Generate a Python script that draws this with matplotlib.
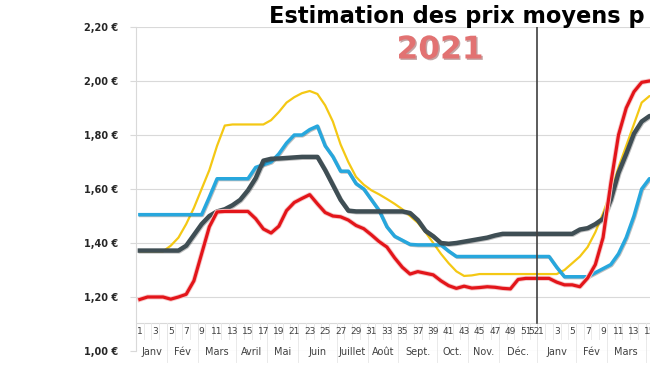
import matplotlib
matplotlib.use("Agg")
import matplotlib.pyplot as plt
import matplotlib.patheffects as pe
import numpy as np

# ---------------- data ----------------
week_labels = [str(w) for w in range(1, 53)] + [str(w) for w in range(1, 17)]
shown_weeks = set(list(range(1, 52, 2)) + [52] + list(range(53, 69, 2)))  # indices whose label is shown

months = ["Janv", "Fév", "Mars", "Avril", "Mai", "Juin", "Juillet", "Août",
          "Sept.", "Oct.", "Nov.", "Déc.", "Janv", "Fév", "Mars", "Avril"]
month_weeks = [4, 4, 5, 4, 4, 5, 4, 4, 5, 4, 4, 5, 5, 4, 5, 4]

y_ticks = [1.00, 1.20, 1.40, 1.60, 1.80, 2.00, 2.20]
y_tick_labels = ["1,00 €", "1,20 €", "1,40 €", "1,60 €", "1,80 €", "2,00 €", "2,20 €"]

serie_bleue = ([1.505] * 9 + [1.57] + [1.638] * 5 +
               [1.68, 1.69, 1.70, 1.73, 1.77, 1.80, 1.80, 1.82, 1.833, 1.76, 1.72,
                1.666, 1.666, 1.62, 1.60, 1.56, 1.52, 1.46, 1.425, 1.41, 1.395] +
               [1.393] * 4 + [1.37] + [1.35] * 13 + [1.31] + [1.275] * 4 +
               [1.29, 1.305, 1.32, 1.36, 1.42, 1.50, 1.60, 1.638, 1.638])

serie_jaune = ([1.369] * 4 +
               [1.39, 1.42, 1.47, 1.53, 1.60, 1.67, 1.76, 1.835] +
               [1.839] * 5 +
               [1.855, 1.885, 1.92, 1.94, 1.955, 1.963, 1.952, 1.91, 1.85, 1.765,
                1.70, 1.645, 1.616, 1.595, 1.58, 1.563, 1.545, 1.525, 1.50, 1.475,
                1.44, 1.40, 1.36, 1.325, 1.295, 1.278, 1.28] +
               [1.285] * 11 +
               [1.30, 1.325, 1.35, 1.385, 1.44, 1.51, 1.59, 1.68, 1.76, 1.84, 1.92,
                1.944, 1.944])

serie_grise = ([1.372] * 6 +
               [1.39, 1.43, 1.47, 1.50, 1.517, 1.525, 1.54, 1.56, 1.595, 1.64,
                1.705, 1.712, 1.713, 1.715, 1.717] +
               [1.719] * 3 + [1.67, 1.615, 1.56, 1.52] + [1.517] * 7 +
               [1.511, 1.485, 1.445, 1.425, 1.40, 1.397, 1.40, 1.405, 1.41, 1.415,
                1.42, 1.428] +
               [1.434] * 10 +
               [1.45, 1.455, 1.47, 1.49, 1.56, 1.66, 1.73, 1.805, 1.85, 1.87, 1.875])

serie_rouge = ([1.191, 1.20, 1.20, 1.20, 1.192, 1.20, 1.21, 1.26, 1.36, 1.46, 1.515] +
               [1.517] * 4 +
               [1.49, 1.452, 1.437, 1.462, 1.52, 1.55, 1.565, 1.579, 1.545, 1.513,
                1.50, 1.497, 1.485, 1.465, 1.453, 1.43, 1.405, 1.385, 1.345, 1.31,
                1.285, 1.294, 1.288, 1.282, 1.26, 1.242, 1.232, 1.24, 1.233, 1.235,
                1.238, 1.236, 1.232, 1.23, 1.265] +
               [1.269] * 4 +
               [1.255, 1.245, 1.245, 1.238, 1.27, 1.32, 1.42, 1.62, 1.80, 1.90, 1.96,
                1.995, 2.0, 2.0])

# ---------------- figure ----------------
W, H = 650, 366
fig = plt.figure(figsize=(W / 100, H / 100), dpi=100)
fig.patch.set_facecolor("white")

px_per_week = 7.72
ax_left_px, ax_top_px, ax_bot_px = 136, 27, 351
ax = fig.add_axes([ax_left_px / W, (H - ax_bot_px) / H,
                   (W - ax_left_px) / W, (ax_bot_px - ax_top_px) / H])
ax.set_xlim(0.5, 0.5 + (W - ax_left_px) / px_per_week)
ax.set_ylim(1.0, 2.2)

x = np.arange(1, len(week_labels) + 1)

ax.plot(x, serie_jaune, color="#F4C814", lw=1.6, zorder=3, solid_capstyle="round")
ax.plot(x, serie_bleue, color="#27A7DD", lw=2.5, zorder=4, solid_joinstyle="round",
        path_effects=[pe.SimpleLineShadow(offset=(0.6, -0.6), alpha=0.25), pe.Normal()])
ax.plot(x, serie_grise, color="#3F4E54", lw=3.2, zorder=5, solid_joinstyle="round",
        path_effects=[pe.SimpleLineShadow(offset=(0.6, -0.6), alpha=0.25), pe.Normal()])
ax.plot(x, serie_rouge, color="#E3151A", lw=2.3, zorder=6, solid_joinstyle="round",
        path_effects=[pe.Stroke(linewidth=3.6, foreground="#F6C9CA"), pe.Normal()])

# gridlines
ax.set_yticks(y_ticks)
ax.set_yticklabels(y_tick_labels, fontsize=7, fontweight="bold", color="#262626")
ax.yaxis.grid(True, color="#D9D9D9", lw=0.8, zorder=0)
ax.tick_params(axis="y", length=4, color="#D9D9D9", pad=9)
ax.set_xticks([])
for s in ["top", "right", "bottom"]:
    ax.spines[s].set_visible(False)
ax.spines["left"].set_color("#D9D9D9")
ax.spines["left"].set_linewidth(0.8)

# category axis drawn at 1.105
axis_y = 1.105
ax.plot([0.5, x[-1] + 1], [axis_y, axis_y], color="#D9D9D9", lw=0.8, zorder=1)
for i in range(len(week_labels) + 1):
    ax.plot([i + 0.5, i + 0.5], [axis_y, 1.045], color="#E6E6E6", lw=0.6, zorder=1)
for i, lab in enumerate(week_labels, start=1):
    if i in shown_weeks:
        ax.text(i, 1.073, lab, ha="center", va="center", fontsize=6.5,
                color="#404040", zorder=2)

start = 0.5
for m, n in zip(months, month_weeks):
    end = start + n
    ax.plot([end, end], [axis_y, 0.96], color="#E6E6E6", lw=0.6, zorder=1,
            clip_on=False)
    ax.text((start + end) / 2, 0.998, m, ha="center", va="center", fontsize=7,
            color="#404040", zorder=2, clip_on=False)
    start = end

# year separator
ax.plot([52.5, 52.5], [axis_y - 0.003, 2.2], color="#404040", lw=1.2, zorder=7)

# titles
title = fig.text(269 / W, 1 - 16 / H, "Estimation des prix moyens p", ha="left",
                 va="center", fontsize=15, fontweight="bold", color="#000000",
                 family="DejaVu Sans")
fig.canvas.draw()
bb = title.get_window_extent()
title.set_fontsize(15 * 378.0 / bb.width)

fig.text(440 / W, 1 - 50 / H, "2021", ha="center", va="center", fontsize=22.5,
         fontweight="bold", color="#E27272",
         path_effects=[pe.withSimplePatchShadow(offset=(1, -1), shadow_rgbFace="#8A4A4A",
                                                alpha=0.5)])

fig.savefig("out.png", dpi=100, facecolor="white")
